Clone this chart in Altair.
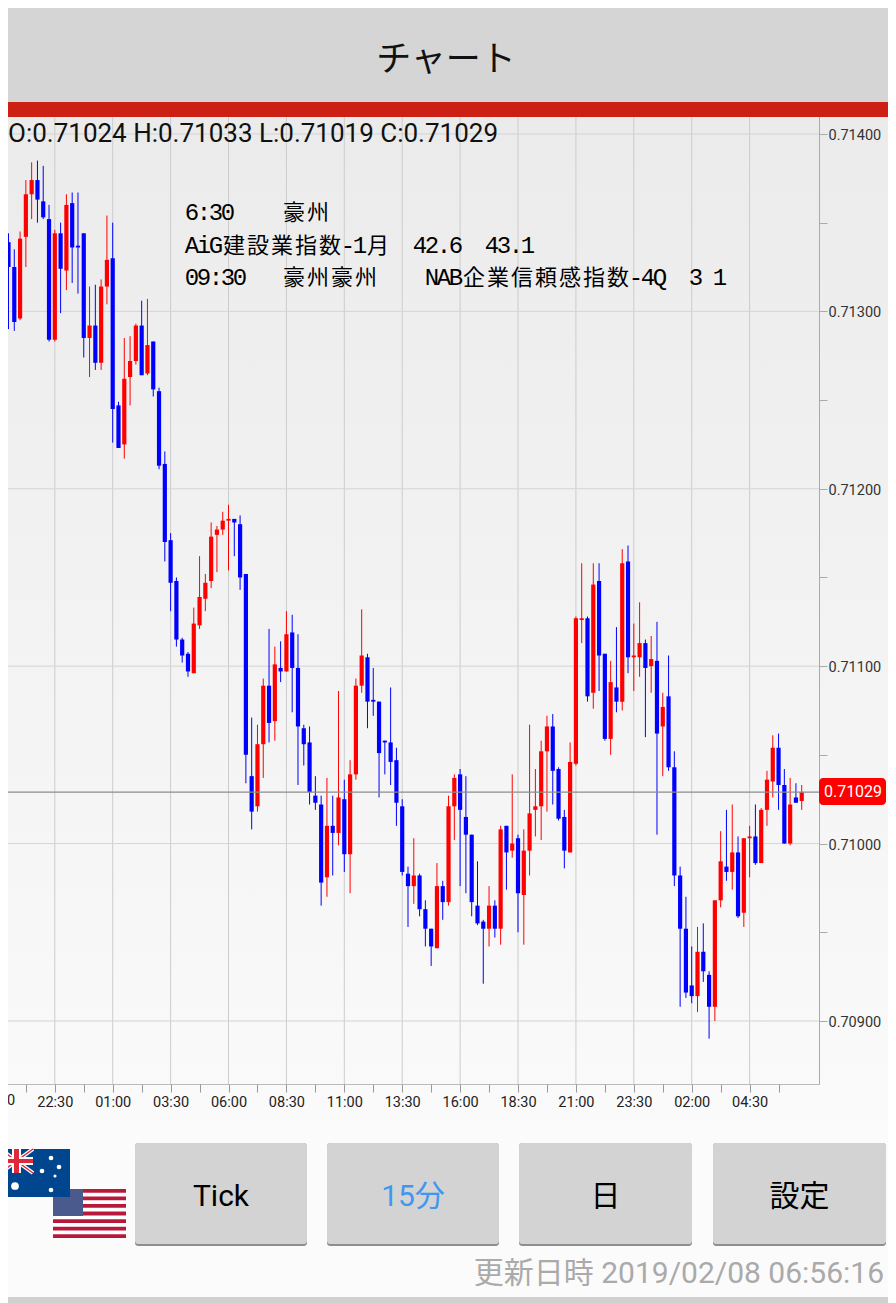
import altair as alt
import pandas as pd

# ---------- chart values (points = price * 100000) ----------
high = [71372,71344,71335,71345,71374,71384,71385,71382,71360,71346,
        71350,71366,71367,71367,71344,71314,71315,71318,71354,71350,
        71249,71285,71286,71293,71306,71307,71283,71257,71221,71175,
        71150,71116,71108,71133,71162,71152,71181,71179,71187,71191,
        71183,71185,71152,71071,71067,71093,71121,71111,71114,71131,
        71129,71118,71067,71066,71038,71027,71037,71027,71086,71036,
        71047,71093,71132,71107,71099,71080,71058,71088,71054,71025,
        70987,71003,70983,70968,70952,70989,70979,71027,71039,71042,
        71038,71005,70990,70957,70976,70968,71010,71010,71039,71005,
        71008,71067,71042,71058,71072,71073,71043,71019,71057,71128,
        71158,71128,71158,71158,71107,71103,71122,71166,71168,71124,
        71136,71115,71117,71125,71085,71106,71052,70987,70970,70942,
        70953,70955,70928,70968,71007,71019,71022,71004,71003,71010,
        71022,71020,71041,71061,71062,71042,71037,71034,71033]
low = [71336,71290,71289,71295,71325,71352,71350,71352,71283,71283,
       71299,71312,71316,71310,71274,71263,71267,71267,71304,71226,
       71223,71217,71247,71270,71264,71264,71252,71211,71159,71131,
       71111,71102,71094,71096,71121,71131,71144,71153,71174,71154,
       71162,71143,71034,71008,71018,71037,71057,71058,71091,71097,
       71074,71033,71044,71022,71019,70965,70970,70982,70999,70984,
       70972,71036,71085,71065,71072,71026,71039,71033,71010,70982,
       70953,70966,70959,70942,70931,70941,70957,70965,71002,70976,
       70972,70959,70954,70921,70942,70947,70943,70974,70992,70950,
       70943,70982,71004,71002,71018,71022,71013,70986,70995,71044,
       71113,71080,71076,71086,71058,71050,71074,71075,71096,71086,
       71094,71060,71085,71005,71038,71041,70976,70908,70913,70910,
       70905,70922,70890,70900,70964,70979,70974,70958,70953,70981,
       70988,70989,71010,71026,71019,71000,70999,71023,71019]
body_top = [71368,71339,71325,71341,71366,71374,71374,71362,71352,71344,
            71344,71360,71361,71337,71344,71292,71292,71314,71329,71330,
            71247,71262,71272,71292,71292,71281,71283,71255,71214,71171,
            71148,71115,71107,71124,71139,71147,71173,71177,71182,71183,
            71183,71180,71152,71038,71056,71089,71089,71101,71099,71118,
            71119,71099,71065,71057,71027,71022,71010,71010,71026,71025,
            71039,71089,71106,71105,71081,71080,71058,71057,71047,71021,
            70983,70982,70982,70963,70952,70976,70976,71021,71037,71039,
            71015,71005,70965,70956,70965,70965,71008,71010,71000,71003,
            70996,71017,71021,71052,71066,71066,71042,71015,71046,71127,
            71127,71127,71146,71148,71107,71091,71088,71158,71159,71106,
            71113,71113,71104,71103,71077,71083,71043,70982,70952,70920,
            70939,70939,70926,70968,70990,70987,70995,70995,71003,71004,
            71004,71019,71036,71054,71054,71033,71022,71026,71029]
body_bottom = [71338,71325,71294,71296,71342,71366,71363,71353,71284,71284,
               71324,71323,71336,71336,71285,71285,71271,71271,71314,71245,
               71223,71225,71263,71272,71264,71265,71256,71213,71170,71147,
               71115,71106,71097,71096,71123,71138,71148,71174,71177,71182,
               71181,71150,71050,71018,71021,71056,71068,71069,71097,71097,
               71099,71066,71056,71029,71023,70978,70981,71006,71006,70994,
               70994,71039,71089,71080,71080,71051,71057,71046,71023,70984,
               70976,70976,70963,70952,70942,70941,70967,70967,71021,71019,
               71005,70967,70955,70952,70952,70952,70952,70995,70996,70972,
               70971,70996,71019,71021,71052,71041,71014,70996,70995,71045,
               71126,71083,71085,71106,71059,71059,71080,71080,71105,71105,
               71105,71099,71100,71062,71066,71043,70982,70952,70916,70914,
               70914,70928,70908,70908,70968,70984,70984,70959,70961,71003,
               70989,70989,71019,71035,71033,71000,71000,71023,71024]
up_candles = [3,4,5,9,11,15,17,18,21,22,23,25,33,34,35,36,37,38,39,44,45,47,49,
              56,58,60,61,62,71,75,77,78,84,86,88,90,91,92,93,94,98,99,100,102,
              105,107,109,110,112,114,120,123,124,126,128,129,131,132,133,136,138]
time_labels = ["20:00","22:30","01:00","03:30","06:00","08:30","11:00","13:30",
               "16:00","18:30","21:00","23:30","02:00","04:30"]
x_ticks = list(range(4, 135, 5))
x_grid = list(range(9, 130, 10))
y_ticks = [0.7090,0.7095,0.7100,0.7105,0.7110,0.7115,0.7120,0.7125,0.7130,0.7135,0.7140]
y_grid = [0.7090,0.7100,0.7110,0.7120,0.7130,0.7140]
last_price = 0.71029
ohlc_text = "O:0.71024 H:0.71033 L:0.71019 C:0.71029"
notes = ["6:30    豪州",
         "AiG建設業指数-1月  42.6  43.1",
         "09:30   豪州豪州    NAB企業信頼感指数-4Q  3 1"]
buttons = [("Tick", 135, 307, "#000000"), ("15分", 327, 499, "#3f97f0"),
           ("日", 519, 692, "#000000"), ("設定", 713, 886, "#000000")]
# ---------- scales ----------
W, H = 880, 1295
OX, OY = 8, 8
FONT = "Roboto, Noto Sans CJK JP"
xs = alt.Scale(domain=[0.915, 0.915 + W / 5.79], range=[0, W], nice=False, zero=False, padding=0)
ys = alt.Scale(domain=[0.71471 - H / 177400, 0.71471], range=[H, 0], nice=False, zero=False, padding=0)

df = pd.DataFrame({
    "i": range(len(high)),
    "high": [v / 1e5 for v in high], "low": [v / 1e5 for v in low],
    "top": [v / 1e5 for v in body_top], "bottom": [v / 1e5 for v in body_bottom],
    "dir": ["up" if i in up_candles else "down" for i in range(len(high))],
})
colors = alt.Scale(domain=["up", "down"], range=["#ff0000", "#0000ff"])

x_label_expr = ("(datum.value+1)%10==0 ? " + str(time_labels) + "[(datum.value+1)/10] : ''")
x_axis = alt.Axis(orient="bottom", offset=-(H - (1084 - OY)), values=x_ticks, title=None,
                  domain=False, grid=False, tickSize=8, tickColor="#999999", tickWidth=1,
                  labelExpr=x_label_expr, labelFont="Roboto", labelFontSize=14.5,
                  labelColor="#222222", labelPadding=3, labelOverlap=False, labelFlush=False,
                  labelBound=False, zindex=1)
y_axis = alt.Axis(orient="right", offset=-(W - (819 - OX)), values=y_ticks, title=None,
                  domain=False, grid=False, tickSize=8, tickColor="#aaaaaa", tickWidth=1,
                  labelExpr="round(datum.value*10000)%10==0 ? format(datum.value,'.5f') : ''",
                  labelFont="Roboto", labelFontSize=14.5, labelColor="#333333",
                  labelPadding=1, labelOffset=1.5, labelOverlap=False, labelBound=False, zindex=1)

def one():
    return alt.Chart(pd.DataFrame({"a": [0]}))

def box(x0, x1, y0, y1, color, radius=0):
    kw = {"cornerRadius": radius} if radius else {}
    return one().mark_rect(color=color, **kw).encode(
        x=alt.value(x0 - OX), x2=alt.value(x1 - OX), y=alt.value(y0 - OY), y2=alt.value(y1 - OY))

def label(txt, x, y, size, color="#000000", font=FONT, align="left", baseline="alphabetic"):
    return one().mark_text(text=txt, fontSize=size, color=color, font=font, align=align,
                           baseline=baseline).encode(x=alt.value(x - OX), y=alt.value(y - OY))

def line(x0, y0, x1, y1, color, width):
    return one().mark_rule(color=color, strokeWidth=width).encode(
        x=alt.value(x0 - OX), x2=alt.value(x1 - OX), y=alt.value(y0 - OY), y2=alt.value(y1 - OY))

layers = []
# panel background
layers.append(one().mark_rect(color=alt.Gradient(
    gradient="linear", x1=0, y1=0, x2=0, y2=1,
    stops=[alt.GradientStop(offset=0, color="#ebebeb"), alt.GradientStop(offset=1, color="#fafafa")]
)).encode(x=alt.value(0), x2=alt.value(W), y=alt.value(117 - OY), y2=alt.value(1120 - OY)))

# grid
layers.append(alt.Chart(pd.DataFrame({"i": x_grid})).mark_rule(color="#cccccc", strokeWidth=1).encode(
    x=alt.X("i:Q", scale=xs, axis=None), y=alt.value(117 - OY), y2=alt.value(1084 - OY)))
layers.append(alt.Chart(pd.DataFrame({"p": y_grid})).mark_rule(color="#d4d4d4", strokeWidth=1).encode(
    y=alt.Y("p:Q", scale=ys, axis=None), x=alt.value(0), x2=alt.value(819 - OX)))

# candles
layers.append(alt.Chart(df).mark_rule(strokeWidth=1).encode(
    x=alt.X("i:Q", scale=xs, axis=None),
    y=alt.Y("high:Q", scale=ys, axis=None), y2="low:Q",
    color=alt.Color("dir:N", scale=colors, legend=None)))
layers.append(alt.Chart(df).mark_bar(size=4.2).encode(
    x=alt.X("i:Q", scale=xs, axis=None),
    y=alt.Y("top:Q", scale=ys, axis=None), y2="bottom:Q",
    color=alt.Color("dir:N", scale=colors, legend=None)))

# last price line, frame
layers.append(alt.Chart(pd.DataFrame({"p": [last_price]})).mark_rule(color="#8c8c8c", strokeWidth=1.4).encode(
    y=alt.Y("p:Q", scale=ys, axis=None), x=alt.value(0), x2=alt.value(819 - OX)))
layers.append(box(819, 820, 117, 1085, "#aaaaaa"))
layers.append(box(0, 820, 1084, 1085, "#bbbbbb"))
layers.append(box(819, 886, 778, 805, "#ff0000", 4))
layers.append(label(f"{last_price:.5f}", 853, 792, 16, "#ffffff", align="center", baseline="middle"))

# header
layers.append(box(0, 896, 0, 102, "#d5d5d5"))
layers.append(box(0, 896, 102, 117, "#cc2014"))
layers.append(label("チャート", 446, 60, 35, "#111111", "Noto Sans CJK JP", "center", "middle"))
layers.append(label(ohlc_text, 8, 142, 26, "#111111"))
layers.append(label(time_labels[0], -3, 1101, 14.5, "#222222", "Roboto", "center", "middle"))

# economic notes, on the app's fixed-width grid
rows = []
for li, txt in enumerate(notes):
    cx = 186
    for ch in txt:
        wide = ord(ch) > 0x2000
        w = 24 if wide else 12
        if ch != " ":
            rows.append({"x": cx + w / 2 - OX, "y": 220 + 32.5 * li - OY, "t": ch, "wide": wide})
        cx += w
nt = pd.DataFrame(rows)
layers.append(alt.Chart(nt[~nt.wide]).mark_text(font="Liberation Mono", fontSize=24, color="#000000",
                                                 align="center", baseline="alphabetic").encode(
    x=alt.X("x:Q", scale=None), y=alt.Y("y:Q", scale=None), text="t:N"))
layers.append(alt.Chart(nt[nt.wide]).mark_text(font="Noto Sans CJK JP", fontSize=22, color="#000000",
                                                align="center", baseline="alphabetic").encode(
    x=alt.X("x:Q", scale=None), y=alt.Y("y:Q", scale=None), text="t:N"))

# footer band
layers.append(box(0, 896, 1297, 1303, "#d0d0d0"))

# flags
layers.append(box(53, 126, 1189, 1238, "#ffffff"))
stripe_h = 49 / 13
for s in range(0, 13, 2):
    layers.append(box(53, 126, 1189 + s * stripe_h, 1189 + (s + 1) * stripe_h, "#b8193a"))
layers.append(box(53, 83, 1189, 1216, "#4a5a8c"))
layers.append(box(0, 70, 1149, 1197, "#00468f"))
layers.append(line(0, 1149, 33, 1173, "#ffffff", 4))
layers.append(line(0, 1173, 33, 1149, "#ffffff", 4))
layers.append(line(0, 1149, 33, 1173, "#e0283c", 1.5))
layers.append(line(0, 1173, 33, 1149, "#e0283c", 1.5))
layers.append(box(12, 21, 1149, 1173, "#ffffff"))
layers.append(box(0, 33, 1157, 1165, "#ffffff"))
layers.append(box(14, 19, 1149, 1173, "#e0283c"))
layers.append(box(0, 33, 1159, 1163, "#e0283c"))
star_x = [51, 42, 59, 55, 51, 15]
star_y = [1158, 1171, 1167, 1176, 1190, 1186]
star_s = [22, 22, 22, 10, 22, 60]
stars = pd.DataFrame({"x": [v - OX for v in star_x], "y": [v - OY for v in star_y], "s": star_s})
layers.append(alt.Chart(stars).mark_point(shape="circle", filled=True, color="#ffffff", opacity=1).encode(
    x=alt.X("x:Q", scale=None), y=alt.Y("y:Q", scale=None),
    size=alt.Size("s:Q", scale=None, legend=None)))

# buttons
for txt, x0, x1, col in buttons:
    layers.append(box(x0, x1, 1143, 1246, "#8e8e8e", 3))
    layers.append(box(x0, x1, 1143, 1244, "#d3d3d3", 3))
    layers.append(label(txt, (x0 + x1) / 2, 1196.5, 30, col, FONT, "center", "middle"))

layers.append(label("更新日時 2019/02/08 06:56:16", 884, 1283, 30, "#aaaaaa", FONT, "right"))

# axes, drawn on top in a layer of their own through the shared scales
layers.append(alt.Chart(df).mark_rule(opacity=0).encode(
    x=alt.X("i:Q", scale=xs, axis=x_axis),
    y=alt.Y("high:Q", scale=ys, axis=y_axis)))

chart = alt.layer(*layers).resolve_axis(x="independent", y="independent").properties(
    width=W, height=H, autosize=alt.AutoSizeParams(type="none"), padding=0, background="#fbfbfb"
).configure_view(stroke=None)

chart.save("out.html", embed_options={"renderer": "svg", "actions": False})
